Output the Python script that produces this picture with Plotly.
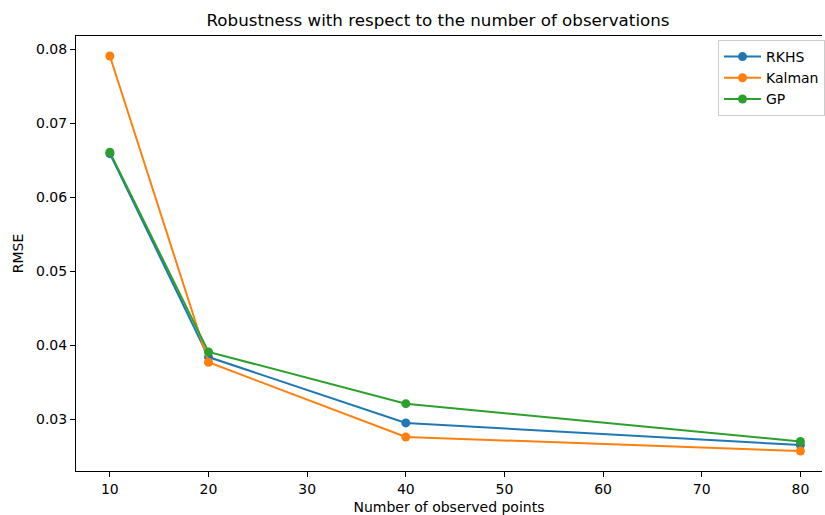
import plotly.graph_objects as go

n_obs = [10, 20, 40, 80]
rkhs = [0.0659, 0.0384, 0.0295, 0.0265]
kalman = [0.0791, 0.0377, 0.0276, 0.0257]
gp = [0.0661, 0.0391, 0.0321, 0.0270]

series = [("RKHS", rkhs, "#1f77b4"), ("Kalman", kalman, "#ff7f0e"), ("GP", gp, "#2ca02c")]

FONT = "DejaVu Sans"
fig = go.Figure()
for name, vals, col in series:
    fig.add_trace(go.Scatter(
        x=n_obs, y=vals, name=name, mode="lines+markers",
        line=dict(color=col, width=2),
        marker=dict(color=col, size=9, line=dict(width=0)),
    ))

fig.update_layout(
    width=825, height=515,
    margin=dict(l=76, r=0, t=36, b=44),
    paper_bgcolor="white", plot_bgcolor="white",
    font=dict(family=FONT, size=14, color="black"),
    title=dict(text="Robustness with respect to the number of observations",
               x=438/825, xanchor="center", xref="container",
               y=1 - 20/515, yanchor="middle", yref="container",
               font=dict(size=16.7, family=FONT, color="black")),
    showlegend=True,
    legend=dict(x=(720.7-76)/749, xanchor="left", y=1 - (40-36)/435, yanchor="top",
                bordercolor="#cccccc", borderwidth=1, bgcolor="rgba(255,255,255,0.8)",
                font=dict(size=14, family=FONT), tracegroupgap=0, itemwidth=37),
)
fig.update_xaxes(
    range=[6.567, 82.19], tickvals=[10, 20, 30, 40, 50, 60, 70, 80],
    showgrid=False, zeroline=False,
    showline=True, linecolor="black", linewidth=1.1, mirror=True,
    ticks="outside", ticklen=5, tickwidth=1.1, tickcolor="black",
    title=dict(text="Number of observed points", standoff=9, font=dict(size=14)),
)
fig.update_yaxes(
    range=[0.0230, 0.0818], tickvals=[0.03, 0.04, 0.05, 0.06, 0.07, 0.08],
    ticktext=["0.03", "0.04", "0.05", "0.06", "0.07", "0.08"],
    showgrid=False, zeroline=False,
    showline=True, linecolor="black", linewidth=1.1, mirror=False,
    ticks="outside", ticklen=5, tickwidth=1.1, tickcolor="black",
    title=dict(text="RMSE", standoff=9, font=dict(size=14)),
)
fig.write_html("out.html", config={"displayModeBar": False},
               post_script="document.body.style.margin='0px';document.body.style.overflow='hidden';")
